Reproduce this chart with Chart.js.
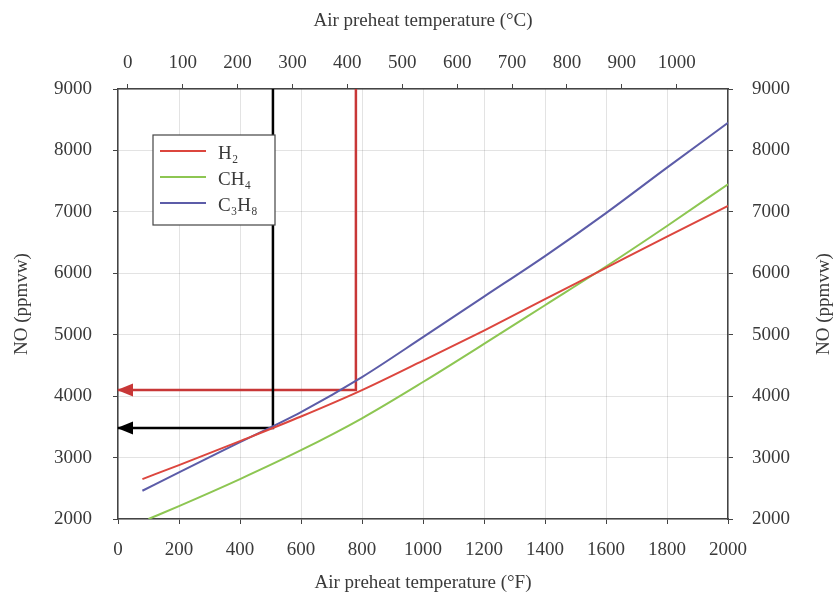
<!DOCTYPE html>
<html>
<head>
<meta charset="utf-8">
<script src="https://cdn.jsdelivr.net/npm/chart.js@4.4.1/dist/chart.umd.min.js"></script>
<style>
  html, body { margin: 0; padding: 0; background: #fff; }
  #wrap { width: 837px; height: 595px; }
</style>
</head>
<body>
<div id="wrap"><canvas id="grafiek" width="837" height="595"></canvas></div>
<script>
// NO against air preheat temperature for three fuels
const tempF = [80, 200, 400, 600, 800, 1000, 1200, 1400, 1600, 1800, 2000];
const tempFCh4 = [100, 200, 400, 600, 800, 1000, 1200, 1400, 1600, 1800, 2000];
const noH2 = [2650, 2878, 3268, 3668, 4098, 4578, 5068, 5578, 6088, 6598, 7098];
const noCh4 = [2000, 2210, 2650, 3120, 3640, 4230, 4850, 5480, 6110, 6770, 7450];
const noC3h8 = [2460, 2760, 3250, 3740, 4310, 4960, 5620, 6280, 6980, 7720, 8450];

const seriesNames = ['H\u2082', 'CH\u2084', 'C\u2083H\u2088'];
const seriesColors = ['rgb(220,70,62)', 'rgb(141,198,82)', 'rgb(92,92,168)'];

// read-off guides: temperature (°F) -> NO (ppmvw)
const guideF = [508, 780];
const guideNO = [3480, 4100];
const guideColors = ['#000000', 'rgb(200,55,55)'];

const tickF = [0, 200, 400, 600, 800, 1000, 1200, 1400, 1600, 1800, 2000];
const tickC = [0, 100, 200, 300, 400, 500, 600, 700, 800, 900, 1000];
const tickNO = [2000, 3000, 4000, 5000, 6000, 7000, 8000, 9000];
const titelNO = 'NO (ppmvw)';

const fToC = f => (f - 32) * 5 / 9;
const pts = (xs, ys) => xs.map((x, i) => ({ x: x, y: ys[i] }));

const tekst = '#3a3a3a';
const lijn = '#444';
const font = { family: '"Liberation Serif", "DejaVu Serif", serif', size: 19 };

Chart.defaults.font.family = font.family;
Chart.defaults.color = tekst;

const curves = [
  pts(tempF, noH2),
  pts(tempFCh4, noCh4),
  pts(tempF, noC3h8)
].map((d, i) => ({
  label: seriesNames[i],
  data: d,
  showLine: true,
  borderColor: seriesColors[i],
  backgroundColor: seriesColors[i],
  borderWidth: 2,
  pointRadius: 0,
  cubicInterpolationMode: 'monotone',
  isCurve: true
}));

const guides = guideF.map((f, i) => ({
  label: 'guide' + i,
  data: [{ x: f, y: tickNO[tickNO.length - 1] }, { x: f, y: guideNO[i] }, { x: tickF[0], y: guideNO[i] }],
  showLine: true,
  borderColor: guideColors[i],
  borderWidth: 2.5,
  borderJoinStyle: 'miter',
  pointRadius: 0,
  tension: 0
}));

// arrow heads at the left end of each guide
const pijlen = {
  id: 'pijlen',
  afterDatasetsDraw(chart) {
    const ctx = chart.ctx;
    const xs = chart.scales.x, ys = chart.scales.y;
    guideNO.forEach((v, i) => {
      const x = xs.getPixelForValue(tickF[0]);
      const y = ys.getPixelForValue(v);
      ctx.save();
      ctx.fillStyle = guideColors[i];
      ctx.beginPath();
      ctx.moveTo(x - 1, y);
      ctx.lineTo(x + 15, y - 6.5);
      ctx.lineTo(x + 15, y + 6.5);
      ctx.closePath();
      ctx.fill();
      ctx.restore();
    });
  }
};

// boxed legend inside the plot, plus the right-hand axis title (reads bottom to top)
const legenda = {
  id: 'legenda',
  afterDraw(chart) {
    const ctx = chart.ctx;
    const left = 153, top = 135, w = 122, h = 90;
    ctx.save();
    ctx.fillStyle = '#fff';
    ctx.fillRect(left, top, w, h);
    ctx.strokeStyle = lijn;
    ctx.lineWidth = 1.2;
    ctx.strokeRect(left, top, w, h);
    ctx.font = font.size + 'px ' + font.family;
    chart.data.datasets.filter(d => d.isCurve).forEach((d, i) => {
      const y = top + 16 + i * 26;
      ctx.strokeStyle = d.borderColor;
      ctx.lineWidth = 2;
      ctx.beginPath();
      ctx.moveTo(left + 7, y);
      ctx.lineTo(left + 53, y);
      ctx.stroke();
      ctx.fillStyle = tekst;
      ctx.textBaseline = 'middle';
      ctx.fillText(d.label, left + 65, y + 3);
    });

    const area = chart.chartArea;
    ctx.translate(824, (area.top + area.bottom) / 2);
    ctx.rotate(-Math.PI / 2);
    ctx.fillStyle = tekst;
    ctx.textAlign = 'center';
    ctx.textBaseline = 'middle';
    ctx.fillText(titelNO, 0, 0);
    ctx.restore();
  }
};

const gridKleur = 'rgba(0,0,0,0.11)';
const plain = v => String(v);

new Chart(document.getElementById('grafiek'), {
  type: 'scatter',
  data: { datasets: curves.concat(guides) },
  plugins: [pijlen, legenda],
  options: {
    responsive: false,
    animation: false,
    layout: { padding: 0 },
    plugins: { legend: { display: false }, tooltip: { enabled: false } },
    scales: {
      x: {
        type: 'linear', position: 'bottom',
        min: tickF[0], max: tickF[tickF.length - 1],
        afterBuildTicks: s => { s.ticks = tickF.map(v => ({ value: v })); },
        afterFit: s => { s.height = 76; },
        ticks: { font: font, padding: 15, maxRotation: 0, callback: plain },
        grid: { color: gridKleur, tickColor: lijn, tickLength: 5 },
        border: { color: lijn, width: 1.5 },
        title: { display: true, text: 'Air preheat temperature (°F)', font: font, padding: { top: 0, bottom: 1 } }
      },
      x2: {
        type: 'linear', position: 'top',
        min: fToC(tickF[0]), max: fToC(tickF[tickF.length - 1]),
        afterBuildTicks: s => { s.ticks = tickC.map(v => ({ value: v })); },
        afterFit: s => { s.height = 89; },
        ticks: { font: font, padding: 10, maxRotation: 0, callback: plain },
        grid: { drawOnChartArea: false, tickColor: lijn, tickLength: 5 },
        border: { color: lijn, width: 1.5 },
        title: { display: true, text: 'Air preheat temperature (°C)', font: font, padding: { top: 10, bottom: 0 } }
      },
      y: {
        type: 'linear', position: 'left',
        min: tickNO[0], max: tickNO[tickNO.length - 1],
        afterBuildTicks: s => { s.ticks = tickNO.map(v => ({ value: v })); },
        afterFit: s => { s.width = 118; },
        ticks: { font: font, padding: 21, callback: plain },
        grid: { color: gridKleur, tickColor: lijn, tickLength: 5 },
        border: { color: lijn, width: 1.5 },
        title: { display: true, text: titelNO, font: font, padding: { top: 11, bottom: 0 } }
      },
      y2: {
        type: 'linear', position: 'right',
        min: tickNO[0], max: tickNO[tickNO.length - 1],
        afterBuildTicks: s => { s.ticks = tickNO.map(v => ({ value: v })); },
        afterFit: s => { s.width = 109; },
        ticks: { font: font, padding: 19, callback: plain },
        grid: { drawOnChartArea: false, tickColor: lijn, tickLength: 5 },
        border: { color: lijn, width: 1.5 }
      }
    }
  }
});
</script>
</body>
</html>
